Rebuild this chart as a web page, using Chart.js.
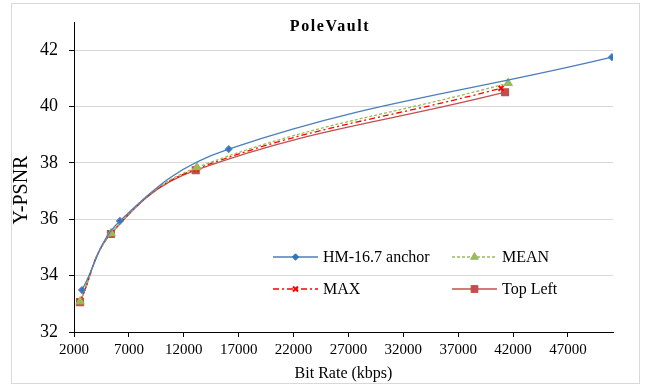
<!DOCTYPE html>
<html>
<head>
<meta charset="utf-8">
<script src="https://cdn.jsdelivr.net/npm/chart.js@4.4.0/dist/chart.umd.min.js"></script>
<style>
  html, body { margin: 0; padding: 0; background: #fff; }
  #wrap { width: 645px; height: 387px; position: relative; }
</style>
</head>
<body>
<div id="wrap"><canvas id="rd-chart" width="645" height="387"></canvas></div>
<script>
"use strict";

// data
var anchorRate = [2730, 6180, 16090, 51000];
var anchorPsnr = [33.49, 35.94, 38.49, 41.75];
var meanRate = [2560, 5380, 13200, 41550];
var meanPsnr = [33.08, 35.50, 37.84, 40.83];
var maxRate = [2550, 5370, 13150, 40900];
var maxPsnr = [33.07, 35.49, 37.79, 40.65];
var topLeftRate = [2545, 5360, 13090, 41270];
var topLeftPsnr = [33.06, 35.48, 37.74, 40.51];

var xTicks = [2000, 7000, 12000, 17000, 22000, 27000, 32000, 37000, 42000, 47000];
var yTicks = [32, 34, 36, 38, 40, 42];

var serif = "'Liberation Serif', 'Times New Roman', serif";

function pts(xs, ys) {
    return xs.map(function (x, i) { return { x: x, y: ys[i] }; });
}

var datasets = [{
    label: "HM-16.7 anchor",
    data: pts(anchorRate, anchorPsnr),
    borderColor: "#4A7EBB",
    backgroundColor: "#2E75C8",
    pointStyle: "rectRot",
    pointRadius: 3.2,
    borderWidth: 1.3
}, {
    label: "MEAN",
    data: pts(meanRate, meanPsnr),
    borderColor: "#9BBB59",
    backgroundColor: "#9BBB59",
    borderDash: [3, 2],
    pointStyle: "triangle",
    pointRadius: 4.5,
    borderWidth: 1.3
}, {
    label: "MAX",
    data: pts(maxRate, maxPsnr),
    borderColor: "#FF0000",
    backgroundColor: "#FF0000",
    borderDash: [6, 3, 2, 3],
    pointStyle: "crossRot",
    pointRadius: 3.5,
    pointBorderWidth: 2,
    borderWidth: 1.3
}, {
    label: "Top Left",
    data: pts(topLeftRate, topLeftPsnr),
    borderColor: "#C0504D",
    backgroundColor: "#C0504D",
    pointStyle: "rect",
    pointRadius: 4.8,
    borderWidth: 1.3
}];

// frame, titles and in-plot legend
var decor = {
    id: "decor",
    beforeDraw: function (chart) {
        var ctx = chart.ctx;
        ctx.save();
        ctx.fillStyle = "#fff";
        ctx.fillRect(0, 0, chart.width, chart.height);
        ctx.strokeStyle = "#d9d9d9";
        ctx.lineWidth = 1;
        ctx.strokeRect(11.5, 3.5, 628, 380);
        ctx.restore();
    },
    afterDraw: function (chart) {
        var ctx = chart.ctx;
        ctx.save();
        ctx.fillStyle = "#000";
        ctx.font = "bold 16px " + serif;
        ctx.letterSpacing = "1.6px";
        ctx.textAlign = "center";
        ctx.textBaseline = "middle";
        ctx.fillText("PoleVault", 330, 27);
        ctx.letterSpacing = "0px";

        // y axis title
        ctx.save();
        ctx.translate(22, 190);
        ctx.rotate(-Math.PI / 2);
        ctx.font = "20px " + serif;
        ctx.fillText("Y-PSNR", 0, 0);
        ctx.restore();

        var spots = [[273, 257], [452, 257], [273, 289], [452, 289]];
        ctx.font = "16px " + serif;
        ctx.textAlign = "left";
        datasets.forEach(function (ds, i) {
            var x = spots[i][0], y = spots[i][1];
            ctx.strokeStyle = ds.borderColor;
            ctx.lineWidth = ds.borderWidth;
            ctx.setLineDash(ds.borderDash || []);
            ctx.beginPath();
            ctx.moveTo(x, y);
            ctx.lineTo(x + 45, y);
            ctx.stroke();
            ctx.setLineDash([]);
            ctx.fillStyle = ds.backgroundColor;
            ctx.strokeStyle = ds.backgroundColor;
            ctx.lineWidth = ds.pointBorderWidth || 1;
            Chart.helpers.drawPoint(ctx, { pointStyle: ds.pointStyle, radius: ds.pointRadius, borderWidth: ds.pointBorderWidth || 1 }, x + 22.5, y);
            ctx.fillStyle = "#000";
            ctx.fillText(ds.label, x + 50, y + 1);
        });
        ctx.restore();
    }
};

var chart = new Chart(document.getElementById("rd-chart"), {
    type: "scatter",
    data: { datasets: datasets },
    plugins: [decor],
    options: {
        responsive: false,
        animation: false,
        layout: { padding: { top: 22, right: 32, left: 0, bottom: 0 } },
        elements: { line: { tension: 0.4 } },
        datasets: { scatter: { showLine: true } },
        plugins: { legend: { display: false }, title: { display: false }, tooltip: { enabled: false } },
        scales: {
            x: {
                type: "linear",
                min: 2000,
                max: 51100,
                afterBuildTicks: function (axis) { axis.ticks = xTicks.map(function (v) { return { value: v }; }); },
                afterFit: function (axis) { axis.height = 55; },
                grid: { drawOnChartArea: false, drawTicks: true, tickLength: 5, tickColor: "#000" },
                border: { color: "#000", width: 1 },
                ticks: {
                    color: "#000", padding: 4, maxRotation: 0, autoSkip: false,
                    font: { family: serif, size: 15 },
                    callback: function (v) { return String(v); }
                },
                title: { display: true, text: "Bit Rate (kbps)", color: "#000", padding: { top: 2, bottom: 4 }, font: { family: serif, size: 16 } }
            },
            y: {
                min: 32,
                max: 43,
                afterBuildTicks: function (axis) { axis.ticks = yTicks.map(function (v) { return { value: v }; }); },
                afterFit: function (axis) { axis.width = 74; },
                grid: { color: "#d9d9d9", drawTicks: true, tickLength: 5, tickColor: "#000" },
                border: { color: "#000", width: 1 },
                ticks: { color: "#000", padding: 11, font: { family: serif, size: 18 } },
                title: { display: false }
            }
        }
    }
});
</script>
</body>
</html>
